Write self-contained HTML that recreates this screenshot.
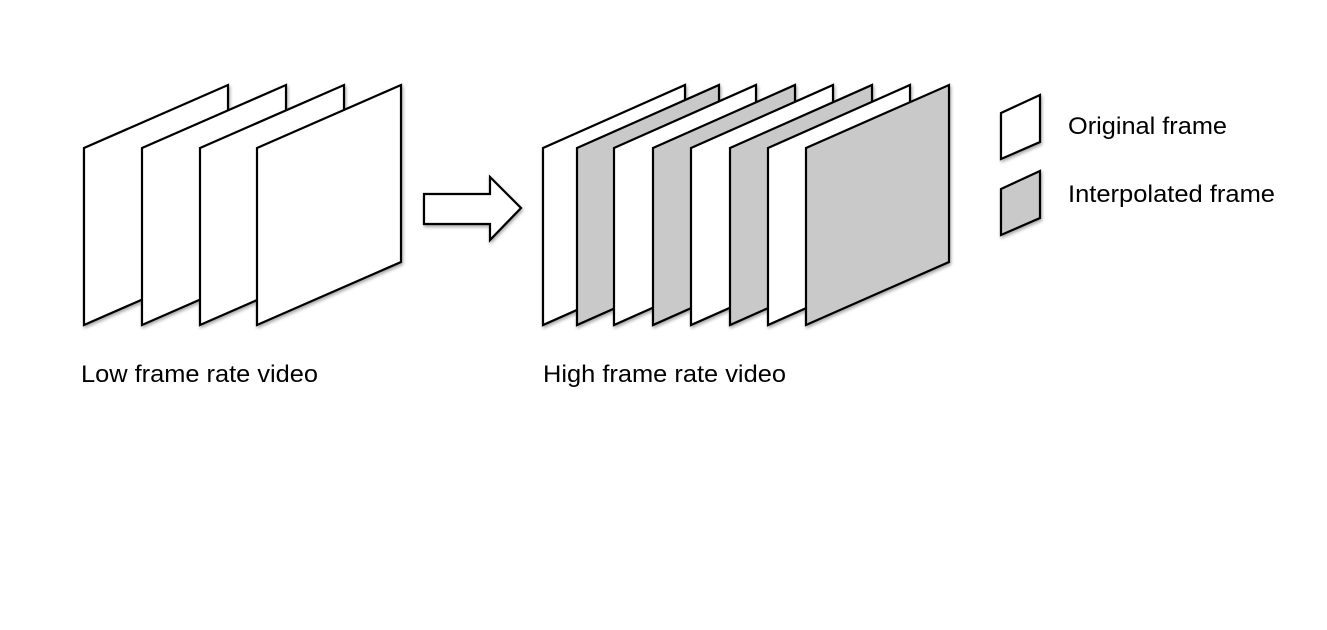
<!DOCTYPE html>
<html><head><style>body{margin:0;background:#fff}svg{display:block}</style></head><body>
<svg width="1327" height="630" viewBox="0 0 1327 630" xmlns="http://www.w3.org/2000/svg">
<defs><filter id="s" x="-10%" y="-10%" width="130%" height="130%"><feDropShadow dx="1" dy="2" stdDeviation="1.5" flood-color="#000" flood-opacity="0.35"/></filter></defs>
<g stroke="#000" stroke-width="2.2" stroke-linejoin="miter" filter="url(#s)">
<polygon points="84,148 228,85 228,262 84,325" fill="#fff"/>
<polygon points="142,148 286,85 286,262 142,325" fill="#fff"/>
<polygon points="200,148 344,85 344,262 200,325" fill="#fff"/>
<polygon points="257,148 401,85 401,262 257,325" fill="#fff"/>
<polygon points="424,194 490,194 490,177 521,208 490,240 490,224 424,224" fill="#fff"/>
<polygon points="543,148 685,85 685,262 543,325" fill="#fff"/>
<polygon points="577,148 719,85 719,262 577,325" fill="#c9c9c9"/>
<polygon points="614,148 756,85 756,262 614,325" fill="#fff"/>
<polygon points="653,148 795,85 795,262 653,325" fill="#c9c9c9"/>
<polygon points="691,148 833,85 833,262 691,325" fill="#fff"/>
<polygon points="730,148 872,85 872,262 730,325" fill="#c9c9c9"/>
<polygon points="768,148 910,85 910,262 768,325" fill="#fff"/>
<polygon points="806,148 949,85 949,262 806,325" fill="#c9c9c9"/>
<polygon points="1001,113 1040,95 1040,142 1001,159" fill="#fff"/>
<polygon points="1001,189 1040,171 1040,218 1001,235" fill="#c9c9c9"/>
</g>
<g font-family="Liberation Sans, sans-serif" font-size="24" fill="#000">
<text x="1068" y="134" textLength="159" lengthAdjust="spacingAndGlyphs">Original frame</text>
<text x="1068" y="202" textLength="207" lengthAdjust="spacingAndGlyphs">Interpolated frame</text>
<text x="81" y="382" textLength="237" lengthAdjust="spacingAndGlyphs">Low frame rate video</text>
<text x="543" y="382" textLength="243" lengthAdjust="spacingAndGlyphs">High frame rate video</text>
</g>
</svg>
</body></html>
